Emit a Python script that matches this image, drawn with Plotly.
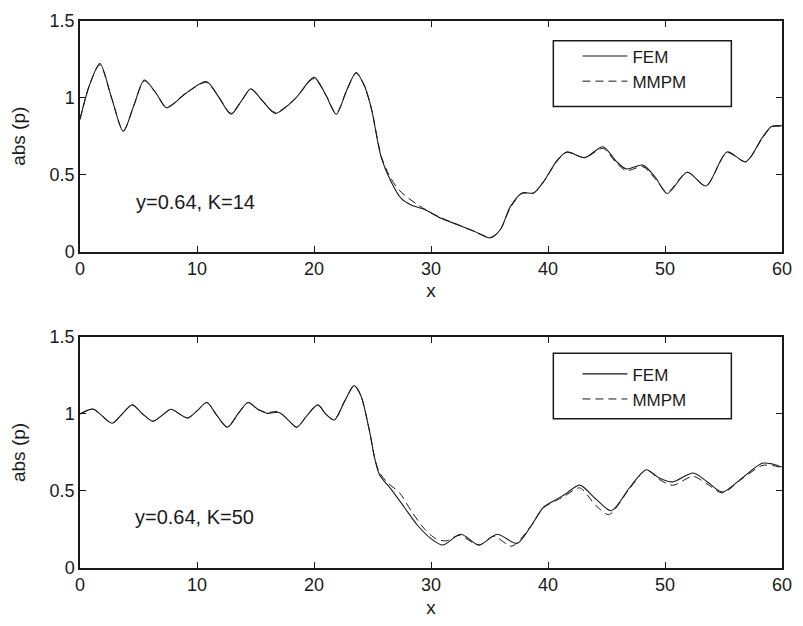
import plotly.graph_objects as go

# ---------------- data ----------------
# Top panel: y=0.64, K=14
top_fem_x = [0, 0.8, 1.7, 2.7, 3.7, 4.6, 5.5, 6.5, 7.4, 9.0, 10.8, 11.9, 12.9, 13.8, 14.6,
             15.6, 16.7, 18.4, 20.0, 21.0, 21.9, 22.8, 23.6, 24.3, 24.9, 25.75, 26.6, 27.45,
             28.3, 29.43, 30.85, 32.26, 33.68, 35.09, 35.93, 36.78, 37.78, 38.77, 39.6, 40.75,
             41.6, 43.15, 44.7, 45.8, 46.7, 48.1, 49.2, 50.2, 51.9, 53.5, 55.3, 56.9, 58.3,
             59.1, 60]
top_fem_y = [0.86, 1.08, 1.223, 1.0, 0.782, 0.95, 1.116, 1.03, 0.935, 1.027, 1.106, 1.0, 0.893,
             0.98, 1.059, 0.98, 0.899, 0.995, 1.133, 1.02, 0.893, 1.05, 1.165, 1.08, 0.931, 0.611,
             0.452, 0.345, 0.303, 0.275, 0.217, 0.175, 0.132, 0.089, 0.143, 0.292, 0.381, 0.381,
             0.452, 0.59, 0.648, 0.611, 0.682, 0.59, 0.537, 0.562, 0.48, 0.377, 0.516, 0.426,
             0.648, 0.584, 0.739, 0.814, 0.818]

top_mmpm_x = [0, 0.8, 1.7, 2.7, 3.7, 4.6, 5.5, 6.5, 7.4, 9.0, 10.8, 11.9, 12.9, 13.8, 14.6,
              15.6, 16.7, 18.4, 20.0, 21.0, 21.9, 22.8, 23.6, 24.3, 24.9, 25.75, 26.4, 27.16,
              28.0, 28.9, 29.9, 30.85, 32.26, 33.68, 35.09, 35.93, 36.78, 37.78, 38.77, 39.6,
              40.75, 41.6, 43.15, 44.7, 45.8, 46.7, 48.1, 49.2, 50.2, 51.9, 53.5, 55.3, 56.9,
              58.3, 59.1, 60]
top_mmpm_y = [0.86, 1.08, 1.215, 1.0, 0.785, 0.95, 1.11, 1.03, 0.94, 1.027, 1.1, 1.0, 0.9,
              0.98, 1.055, 0.98, 0.905, 0.995, 1.125, 1.02, 0.9, 1.05, 1.16, 1.08, 0.931, 0.62,
              0.5, 0.409, 0.351, 0.303, 0.255, 0.22, 0.175, 0.132, 0.092, 0.143, 0.285, 0.378,
              0.381, 0.452, 0.585, 0.645, 0.611, 0.671, 0.58, 0.526, 0.552, 0.47, 0.388, 0.516,
              0.426, 0.643, 0.584, 0.735, 0.81, 0.815]

# Bottom panel: y=0.64, K=50
bot_fem_x = [0, 1.13, 2.74, 3.6, 4.47, 5.35, 6.22, 7.0, 7.78, 8.5, 9.2, 10.0, 10.84, 11.7,
             12.6, 13.5, 14.37, 15.2, 16.0, 17.0, 17.8, 18.53, 19.4, 20.32, 21.0, 21.73, 22.6,
             23.43, 24.0, 24.76, 25.19, 25.6, 26.6, 27.73, 28.86, 30.0, 31.0, 32.55, 34.1,
             35.65, 37.35, 38.48, 39.6, 40.75, 41.5, 42.7, 44.1, 45.4, 46.97, 48.4, 49.5,
             50.65, 52.4, 53.6, 54.9, 56.6, 58.3, 59.2, 60]
bot_fem_y = [1.0, 1.031, 0.94, 1.0, 1.059, 1.0, 0.953, 0.99, 1.031, 1.0, 0.974, 1.02, 1.074,
             0.99, 0.914, 1.0, 1.074, 1.03, 1.004, 1.01, 0.96, 0.914, 0.99, 1.059, 1.0, 0.961,
             1.08, 1.184, 1.12, 0.883, 0.712, 0.606, 0.51, 0.393, 0.276, 0.191, 0.149, 0.219,
             0.149, 0.219, 0.16, 0.265, 0.393, 0.447, 0.48, 0.538, 0.447, 0.372, 0.521, 0.638,
             0.585, 0.559, 0.617, 0.56, 0.493, 0.585, 0.68, 0.675, 0.655]

bot_mmpm_x = [0, 1.13, 2.74, 3.6, 4.47, 5.35, 6.22, 7.0, 7.78, 8.5, 9.2, 10.0, 10.84, 11.7,
              12.6, 13.5, 14.37, 15.2, 16.0, 17.0, 17.8, 18.53, 19.4, 20.32, 21.0, 21.73, 22.6,
              23.43, 24.0, 24.76, 25.19, 25.6, 26.3, 27.3, 28.3, 29.43, 30.4, 31.27, 32.4,
              34.1, 35.37, 36.9, 38.48, 39.6, 40.75, 41.5, 42.7, 44.1, 45.2, 46.97, 48.4,
              49.5, 50.65, 52.4, 53.6, 54.9, 56.6, 58.3, 59.2, 60]
bot_mmpm_y = [1.0, 1.031, 0.94, 1.0, 1.059, 1.0, 0.953, 0.99, 1.031, 1.0, 0.974, 1.02, 1.074,
              0.99, 0.914, 1.0, 1.074, 1.03, 1.01, 1.015, 0.96, 0.914, 0.99, 1.059, 1.0, 0.961,
              1.08, 1.184, 1.12, 0.883, 0.712, 0.62, 0.553, 0.489, 0.372, 0.255, 0.191, 0.176,
              0.212, 0.149, 0.206, 0.142, 0.265, 0.39, 0.44, 0.47, 0.52, 0.405, 0.347, 0.515,
              0.635, 0.575, 0.537, 0.595, 0.545, 0.488, 0.58, 0.665, 0.665, 0.65]

series_names = ["FEM", "MMPM"]
panel_labels = ["y=0.64, K=14", "y=0.64, K=50"]
x_ticks = [0, 10, 20, 30, 40, 50, 60]
y_ticks = [0, 0.5, 1, 1.5]

# ---------------- figure ----------------
FONT = "Liberation Sans, Arial, Helvetica, sans-serif"
INK = "#1a1a1a"

fig = go.Figure()

panels = [
    (top_fem_x, top_fem_y, top_mmpm_x, top_mmpm_y, "x", "y", "legend"),
    (bot_fem_x, bot_fem_y, bot_mmpm_x, bot_mmpm_y, "x2", "y2", "legend2"),
]
for fx, fy, mx, my, xa, ya, lg in panels:
    fig.add_trace(go.Scatter(x=fx, y=fy, name=series_names[0], mode="lines",
                             line=dict(color=INK, width=1.1, shape="spline", smoothing=0.8),
                             xaxis=xa, yaxis=ya, legend=lg))
    fig.add_trace(go.Scatter(x=mx, y=my, name=series_names[1], mode="lines",
                             line=dict(color=INK, width=1.0, dash="8px,5px",
                                       shape="spline", smoothing=0.8),
                             xaxis=xa, yaxis=ya, legend=lg))

axis_common = dict(
    showline=True, mirror="ticks", linecolor=INK, linewidth=1.5,
    ticks="inside", ticklen=6, tickwidth=1, tickcolor=INK,
    showgrid=False, zeroline=False,
    tickfont=dict(family=FONT, size=18, color=INK),
)

top_dom = [0.5786, 1.0]
bot_dom = [0.0, 0.4224]

leg_common = dict(xanchor="left", yanchor="top", bgcolor="rgba(0,0,0,0)", borderwidth=0,
                  font=dict(family=FONT, size=17, color=INK), tracegroupgap=0, itemwidth=45)

fig.update_layout(
    width=803, height=626,
    margin=dict(l=80, r=16, t=11, b=58),
    paper_bgcolor="white", plot_bgcolor="white",
    showlegend=True,
    xaxis=dict(axis_common, range=[0, 60], tickvals=x_ticks, anchor="y",
               title=dict(text="x", font=dict(family=FONT, size=19, color=INK), standoff=6)),
    yaxis=dict(axis_common, range=[0, 1.5], tickvals=y_ticks, domain=top_dom, anchor="x",
               title=dict(text="abs (p)", font=dict(family=FONT, size=19, color=INK), standoff=19)),
    xaxis2=dict(axis_common, range=[0, 60], tickvals=x_ticks, anchor="y2",
                title=dict(text="x", font=dict(family=FONT, size=19, color=INK), standoff=6)),
    yaxis2=dict(axis_common, range=[0, 1.5], tickvals=y_ticks, domain=bot_dom, anchor="x2",
                title=dict(text="abs (p)", font=dict(family=FONT, size=19, color=INK), standoff=19)),
    legend=dict(leg_common, x=0.7086, y=0.968),
    legend2=dict(leg_common, x=0.7086, y=0.387),
)

# legend frames
def px_to_paper_x(px):
    return (px - 80) / (803 - 80 - 16)

def py_to_paper_y(py):
    return 1 - (py - 11) / (626 - 11 - 58)

for (x0, y0, x1, y1) in [(556.7, 31, 736, 98), (556.7, 349.3, 736, 416)]:
    fig.add_shape(type="rect", xref="paper", yref="paper",
                  x0=px_to_paper_x(x0), x1=px_to_paper_x(x1),
                  y0=py_to_paper_y(y1), y1=py_to_paper_y(y0),
                  line=dict(color=INK, width=1.5), fillcolor="rgba(0,0,0,0)")

fig.add_annotation(x=4.6, y=0.324, xref="x", yref="y", text=panel_labels[0],
                   showarrow=False, xanchor="left", yanchor="middle",
                   font=dict(family=FONT, size=20, color=INK))
fig.add_annotation(x=4.5, y=0.33, xref="x2", yref="y2", text=panel_labels[1],
                   showarrow=False, xanchor="left", yanchor="middle",
                   font=dict(family=FONT, size=20, color=INK))

fig.write_html("out.html", config={"displayModeBar": False},
               post_script="document.body.style.margin='0';document.body.style.overflow='hidden';")
